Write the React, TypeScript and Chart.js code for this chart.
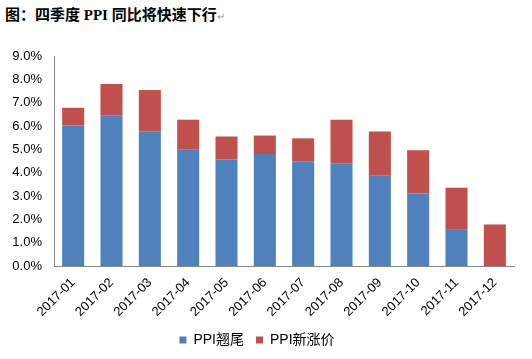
import React, { useEffect, useRef } from "react";
import { Chart, registerables } from "chart.js";

Chart.register(...registerables);

const categories = ["2017-01","2017-02","2017-03","2017-04","2017-05","2017-06","2017-07","2017-08","2017-09","2017-10","2017-11","2017-12"];
const carryover = [6.02, 6.44, 5.76, 5.0, 4.58, 4.8, 4.49, 4.38, 3.87, 3.11, 1.58, 0];
const newRise = [0.76, 1.36, 1.78, 1.27, 0.97, 0.79, 0.98, 1.89, 1.89, 1.85, 1.77, 1.78];
const yTicks = [0, 1, 2, 3, 4, 5, 6, 7, 8, 9];
const seriesNames = ["PPI翘尾", "PPI新涨价"];
const titleText = "图：四季度 PPI 同比将快速下行";

export default function App() {
  const ref = useRef<HTMLCanvasElement | null>(null);
  useEffect(() => {
    document.body.style.margin = "0";
    const ctx = ref.current!;
    const chart = new Chart(ctx, {
      type: "bar",
      data: {
        labels: categories,
        datasets: [
          { label: seriesNames[0], data: carryover, backgroundColor: "#4F81BD", borderWidth: 0, barPercentage: 0.575, categoryPercentage: 1 },
          { label: seriesNames[1], data: newRise, backgroundColor: "#C0504D", borderWidth: 0, barPercentage: 0.575, categoryPercentage: 1 },
        ],
      },
      options: {
        animation: false,
        responsive: false,
        layout: { padding: { left: 0, right: 18, top: 56, bottom: 2 } },
        plugins: {
          legend: {
            position: "bottom",
            labels: {
              boxWidth: 7,
              boxHeight: 7,
              padding: 12,
              color: "#000",
              font: { family: "Arial, 'Liberation Sans', 'Noto Sans CJK SC'", size: 14 },
            },
          },
          tooltip: { enabled: false },
        },
        scales: {
          x: {
            stacked: true,
            grid: { display: false, drawTicks: false },
            border: { color: "#888", width: 1 },
            ticks: {
              color: "#000",
              maxRotation: 45,
              minRotation: 45,
              padding: 9,
              font: { family: "Arial, 'Liberation Sans'", size: 13 },
            },
            afterFit: (s: any) => { s.height = 55; },
          },
          y: {
            stacked: true,
            min: 0,
            max: 9,
            grid: { display: false, drawTicks: false },
            border: { color: "#888", width: 1 },
            afterBuildTicks: (s: any) => { s.ticks = yTicks.map((v) => ({ value: v })); },
            ticks: {
              color: "#000",
              padding: 12,
              font: { family: "Arial, 'Liberation Sans'", size: 13 },
              callback: (v: any) => Number(v).toFixed(1) + "%",
            },
            afterFit: (s: any) => { s.width = 54; },
          },
        },
      },
    });
    return () => chart.destroy();
  }, []);
  return (
    <div style={{ position: "relative", width: 532, height: 359, background: "#fff" }}>
      <div
        style={{
          position: "absolute",
          left: 5,
          top: 3,
          fontFamily: "'Times New Roman', 'Liberation Serif', 'Noto Sans CJK SC'",
          fontWeight: "bold",
          fontSize: 15,
          color: "#000",
          whiteSpace: "nowrap",
        }}
      >
        {titleText}
        <span style={{ color: "#999", fontWeight: "normal", fontSize: 10 }}>↵</span>
      </div>
      <canvas ref={ref} width={532} height={359} style={{ position: "absolute", left: 0, top: 0 }} />
    </div>
  );
}
